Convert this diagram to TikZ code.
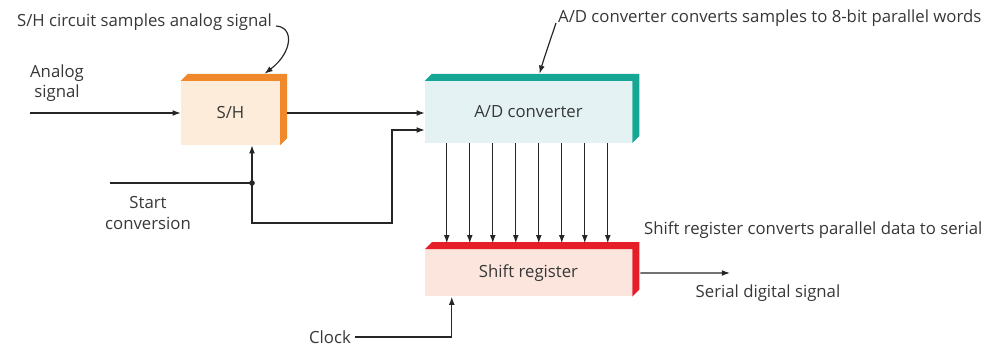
\documentclass[tikz,border=0pt]{standalone}
\usepackage{fontspec}
\setmainfont{Open Sans}
\usetikzlibrary{arrows.meta, positioning, calc}
\definecolor{shorange}{RGB}{240,137,43}
\definecolor{shfill}{RGB}{253,236,218}
\definecolor{adteal}{RGB}{22,166,148}
\definecolor{adfill}{RGB}{228,242,244}
\definecolor{regred}{RGB}{230,30,40}
\definecolor{regfill}{RGB}{251,229,221}
\definecolor{txtgray}{RGB}{55,55,55}

% top and right faces of a block
\newcommand{\blockbands}[2]{%
  \fill[#2] (#1.north west) -- ++(7,-7) -| ($(#1.south east)+(7,-7)$)
    -- (#1.south east) -- (#1.north east) -- cycle;
}

\begin{document}
\begin{tikzpicture}[x=0.03cm, y=-0.03cm,
  every node/.style={font=\fontsize{14.3}{17.5}\selectfont, text=txtgray},
  wire/.style={line width=1pt, black!85},
  arr/.style={wire, -{Latex[length=7pt, width=5pt]}},
  blockface/.style={rectangle, inner sep=0pt},
]
  \useasboundingbox (0,0) rectangle (993,348);

  % blocks
  \node[blockface, fill=shfill, minimum width=2.97cm, minimum height=1.92cm] (sh) at (230.5,113) {S/H};
  \node[blockface, fill=adfill, minimum width=6.21cm, minimum height=1.86cm] (adc) at (528.5,112) {A/D converter};
  \node[blockface, fill=regfill, minimum width=6.21cm, minimum height=1.41cm, below=3.18cm of adc] (sreg) {Shift register};
  \blockbands{sh}{shorange}
  \blockbands{adc}{adteal}
  \blockbands{sreg}{regred}

  % analog input
  \node[align=center] (ainlabel) at (57,83) {Analog\\signal};
  \coordinate (ain) at (30,113);
  \draw[arr] (ain) -- (sh.west);
  \draw[arr] ($(sh.east)+(7,0)$) -- (sh.east -| adc.west);

  % start conversion
  \node[align=center] (sclabel) at (148,213) {Start\\conversion};
  \coordinate (scstart) at (110,183);
  \coordinate (scdot) at (252,183);
  \coordinate (scbend) at (392,223);
  \draw[wire] (scstart) -- (scdot);
  \fill[black!85] (scdot) circle (2.4pt);
  \draw[arr] (scdot) -- (scdot |- sh.south);
  \draw[arr] (scdot) |- (scbend) |- ($(adc.west)+(0,18)$);

  % parallel words
  \foreach \i in {0,...,7} {
    \draw[arr] ($(adc.south west)+(22+23*\i,0)$) -- ($(sreg.north west)+(22+23*\i,-6)$);
  }

  % clock and serial output
  \node[inner ysep=1pt] (clk) at (330,337) {Clock};
  \draw[arr] (clk.east) -| ($(sreg.south west)+(27,0)$);
  \coordinate (sout) at (730,273);
  \draw[arr] ($(sreg.east)+(8,0)$) -- (sout);
  \node (soutlabel) at (768,293) {Serial digital signal};

  % notes
  \node[anchor=east] (shnote) at (276,22) {S/H circuit samples analog signal};
  \draw[arr] ($(shnote.east)+(0,4)$) .. controls (294,27) and (293,52) .. ($(sh.north)+(34,-7)$);
  \node[anchor=west] (adnote) at (554,18) {A/D converter converts samples to 8-bit parallel words};
  \draw[arr] ($(adnote.west)+(2,5)$) .. controls (551,38) and (545,55) .. ($(adc.north)+(11,-7)$);
  \node[anchor=west] (srnote) at (640,230) {Shift register converts parallel data to serial};
\end{tikzpicture}
\end{document}
